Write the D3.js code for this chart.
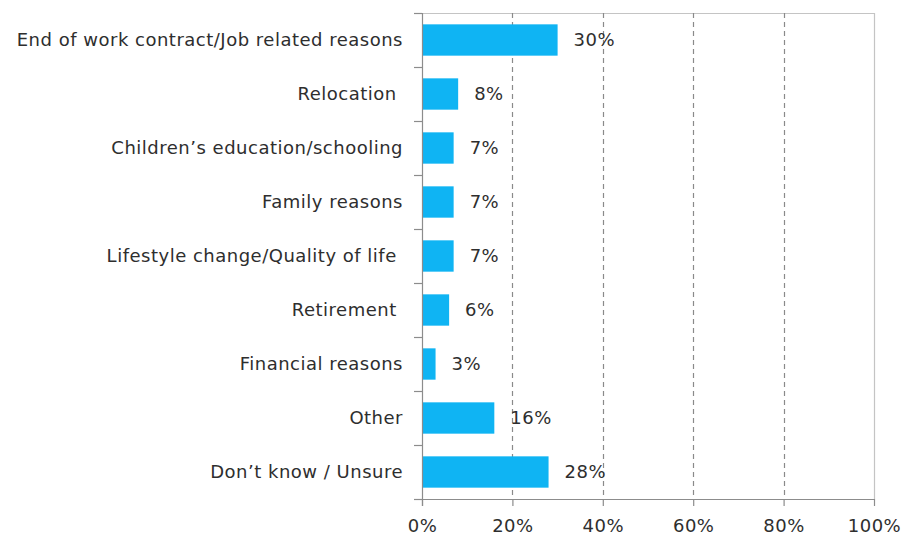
<!DOCTYPE html>
<html>
<head>
<meta charset="utf-8">
<script src="https://cdn.jsdelivr.net/npm/d3@7"></script>
<style>
  html, body { margin: 0; padding: 0; background: #fff; }
  svg { display: block; }
  text { font-family: "DejaVu Sans", Verdana, sans-serif; fill: #2e2e2e; letter-spacing: 0.5px; }
</style>
</head>
<body>
<svg id="chart" width="901" height="536"></svg>
<script>
// Reasons for leaving, share of respondents (%)
const categories = [
  "End of work contract/Job related reasons",
  "Relocation ",
  "Children\u2019s education/schooling",
  "Family reasons",
  "Lifestyle change/Quality of life ",
  "Retirement ",
  "Financial reasons",
  "Other",
  "Don\u2019t know / Unsure"
];
const values = [30, 8, 7, 7, 7, 6, 3, 16, 28];
const xTicks = [0, 20, 40, 60, 80, 100];

const svg = d3.select("#chart");
const margin = { top: 13, right: 27, bottom: 37, left: 422 };
const W = 901, H = 536;
const innerW = W - margin.left - margin.right;
const innerH = H - margin.top - margin.bottom;
const FONT = 18;

const g = svg.append("g").attr("transform", `translate(${margin.left},${margin.top})`);

const x = d3.scaleLinear().domain([0, 100]).range([0, innerW]);
const y = d3.scaleBand().domain(categories).range([0, innerH]).paddingInner(0.42).paddingOuter(0.21);

// Plot frame (top and right edges)
g.append("path")
  .attr("d", `M0,0.5H${innerW + 0.5}V${innerH}`)
  .attr("fill", "none").attr("stroke", "#c4c4c4").attr("stroke-width", 1.2);

// Dashed vertical gridlines
g.selectAll("line.grid").data(xTicks.filter(t => t > 0 && t < 100)).join("line")
  .attr("class", "grid")
  .attr("x1", d => Math.round(x(d)) + 0.5).attr("x2", d => Math.round(x(d)) + 0.5)
  .attr("y1", 0).attr("y2", innerH)
  .attr("stroke", "#8a8a8a").attr("stroke-width", 1.2).attr("stroke-dasharray", "5,4");

// Bars
g.selectAll("rect.bar").data(values).join("rect")
  .attr("class", "bar")
  .attr("x", 0)
  .attr("y", (d, i) => y(categories[i]))
  .attr("width", d => x(d))
  .attr("height", y.bandwidth())
  .attr("fill", "#0fb4f3");

// Value labels
g.selectAll("text.val").data(values).join("text")
  .attr("class", "val")
  .attr("x", d => x(d) + 16)
  .attr("y", (d, i) => y(categories[i]) + y.bandwidth() / 2)
  .attr("dy", "0.35em")
  .attr("font-size", FONT)
  .text(d => d + "%");

// X axis
const xAxis = g.append("g").attr("transform", `translate(0,${innerH})`)
  .call(d3.axisBottom(x).tickValues(xTicks).tickFormat(d => d + "%").tickSize(7).tickSizeOuter(0));
xAxis.select(".domain").attr("stroke", "#8c8c8c").attr("stroke-width", 1.2);
xAxis.selectAll(".tick line").attr("stroke", "#8c8c8c").attr("stroke-width", 1.2);
xAxis.selectAll(".tick text").attr("font-size", FONT).attr("font-family", "DejaVu Sans, Verdana, sans-serif")
  .attr("fill", "#2e2e2e").attr("y", 33).attr("dy", 0);

// Y axis: ticks sit between categories
const yAxis = g.append("g");
yAxis.append("line").attr("x1", 0.5).attr("x2", 0.5).attr("y1", 0).attr("y2", innerH + 7)
  .attr("stroke", "#8c8c8c").attr("stroke-width", 1.2);
const bounds = d3.range(categories.length + 1).map(i => i * innerH / categories.length);
yAxis.selectAll("line.ytick").data(bounds).join("line")
  .attr("class", "ytick")
  .attr("x1", -8).attr("x2", 0)
  .attr("y1", d => Math.round(d) + 0.5).attr("y2", d => Math.round(d) + 0.5)
  .attr("stroke", "#8c8c8c").attr("stroke-width", 1.2);

// Category labels
g.selectAll("text.cat").data(categories).join("text")
  .attr("class", "cat")
  .attr("x", -19)
  .attr("y", d => y(d) + y.bandwidth() / 2)
  .attr("dy", "0.35em")
  .attr("text-anchor", "end")
  .attr("font-size", FONT)
  .style("white-space", "pre")
  .text(d => d);
</script>
</body>
</html>
